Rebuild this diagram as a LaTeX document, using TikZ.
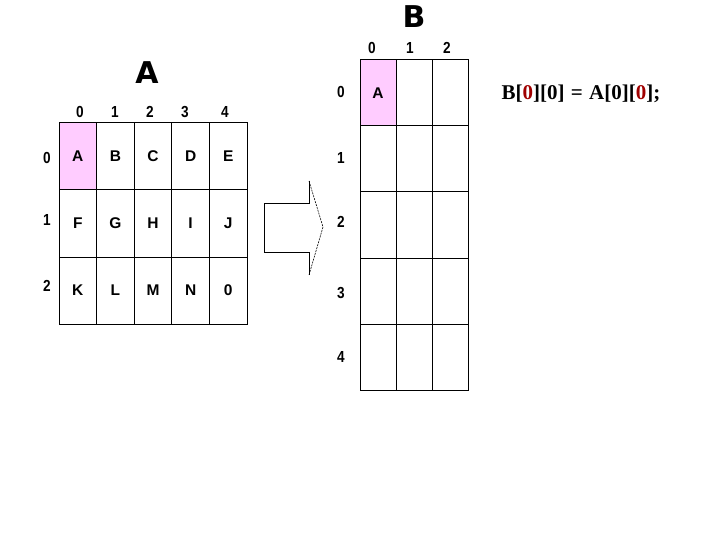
\documentclass[tikz,border=0pt]{standalone}
\usepackage{fontspec}
\setmainfont{Liberation Serif}
\setsansfont{Liberation Sans}
\newfontfamily\heavysans{DejaVu Sans Bold}
\newfontfamily\cellsans{Liberation Sans Bold}
\newfontfamily\narrowsans{Liberation Sans Bold}[FakeStretch=0.85]
\usepackage{xcolor}
\usetikzlibrary{positioning}

\definecolor{cellpink}{HTML}{FFCCFF}
\definecolor{idxred}{HTML}{A00000}

\begin{document}
\begin{tikzpicture}[
    x=1pt, y=-1pt,
    acell/.style={draw, line width=1pt, minimum width=37.6pt, minimum height=67pt, inner sep=0pt, font=\cellsans\fontsize{15.5}{15.5}\selectfont},
    bcell/.style={draw, line width=1pt, minimum width=36pt, minimum height=66pt, inner sep=0pt, font=\cellsans\fontsize{15.5}{15.5}\selectfont},
    idx/.style={font=\narrowsans\fontsize{16}{16}\selectfont, inner sep=0pt},
    title/.style={font=\heavysans\fontsize{30}{30}\selectfont, inner sep=0pt}
]
\useasboundingbox (0,0) rectangle (720,540);

% array A
\node[title] (titleA) at (147,73) {A};
\foreach \val [count=\k from 0] in {A,B,C,D,E,F,G,H,I,J,K,L,M,N,0} {
  \pgfmathtruncatemacro{\r}{div(\k,5)}
  \pgfmathtruncatemacro{\c}{mod(\k,5)}
  \node[acell] (a\r\c) at ({59+37.6*(\c+0.5)},{123+67*(\r+0.5)}) {\val};
}
\node[acell, fill=cellpink] at (a00) {A};
\foreach \c/\px in {0/80,1/115,2/150,3/185,4/225}
  \node[idx] (acol\c) at (\px,112) {\c};
\foreach \r/\py in {0/158,1/220,2/286}
  \node[idx] (arow\r) at (47,\py) {\r};

% array B
\node[title] (titleB) at (414,17) {B};
\foreach \r in {0,...,4}
  \foreach \c in {0,1,2}
    \node[bcell] (b\r\c) at ({360+36*(\c+0.5)},{60+66*(\r+0.5)}) {};
\node[bcell, fill=cellpink] at (b00) {A};
\foreach \c/\px in {0/372,1/410,2/447}
  \node[idx] (bcol\c) at (\px,48) {\c};
\foreach \r/\py in {0/92,1/158,2/222,3/293,4/357}
  \node[idx] (brow\r) at (341,\py) {\r};

% block arrow
\draw[line width=1pt] (309,181) -- (309,204) -- (264,204) -- (264,252) -- (309,252) -- (309,275);
\draw[line width=0.6pt, dash pattern=on 2pt off 1pt] (309,181) -- (323,227) -- (309,275);

% statement
\node[font=\bfseries\fontsize{21}{21}\selectfont, inner sep=0pt] (stmt) at (581,94)
  {B[\textcolor{idxred}{0}][0]\hspace{0.3em}=\hspace{0.3em}A[0][\textcolor{idxred}{0}];};
\end{tikzpicture}
\end{document}
